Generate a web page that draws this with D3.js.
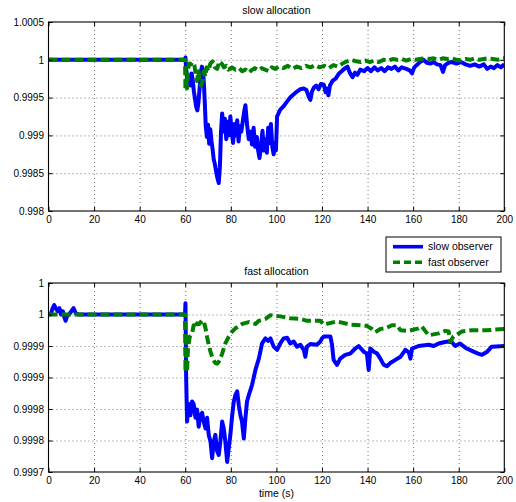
<!DOCTYPE html>
<html>
<head>
<meta charset="utf-8">
<script src="https://cdn.jsdelivr.net/npm/d3@7"></script>
<style>
  body { margin: 0; background: #fff; }
  svg { font-family: "Liberation Sans", Arial, Helvetica, sans-serif; }
</style>
</head>
<body>
<svg id="chart" width="516" height="502"></svg>
<script>
// ---- data: [time (s), value] ----

// x axis ticks, shared by both panels
const timeTicks = [0, 20, 40, 60, 80, 100, 120, 140, 160, 180, 200]

// top panel: slow allocation
const slowAllocTicks = [0.998, 0.9985, 0.999, 0.9995, 1, 1.0005]
const slowAllocTickLabels = ["0.998", "0.9985", "0.999", "0.9995", "1", "1.0005"]

const slowAllocSlowObs = [
  [0, 1], [59.8, 1], [60.1, 1.00003], [60.4, 0.99988], [60.8, 0.99976], [61.3, 0.99968],
  [61.8, 0.99978], [62.3, 0.99966], [62.8, 0.99982], [63.3, 0.99973], [63.8, 0.99958],
  [64.3, 0.99948], [64.8, 0.99938], [65.3, 0.99933], [65.8, 0.99944], [66.3, 0.99962],
  [66.8, 0.99982], [67.3, 0.99991], [67.8, 0.99986], [68.2, 0.99968], [68.6, 0.99942],
  [69.0, 0.99912], [69.5, 0.99898], [70.0, 0.99914], [70.5, 0.99889], [71.0, 0.99908],
  [71.5, 0.99893], [72.0, 0.99882], [72.5, 0.99868], [73.0, 0.99862], [73.5, 0.99853],
  [74.0, 0.99845], [74.7, 0.99837], [75.2, 0.99858], [75.7, 0.99905], [76.2, 0.99929],
  [76.8, 0.99905], [77.4, 0.99922], [78.0, 0.99895], [78.6, 0.99918], [79.2, 0.99900],
  [79.8, 0.99925], [80.4, 0.99905], [81.0, 0.99890], [81.6, 0.99915], [82.2, 0.99900],
  [82.8, 0.99920], [83.4, 0.99892], [84.0, 0.99912], [84.6, 0.99905], [85.3, 0.99920],
  [85.9, 0.99932], [86.4, 0.99940], [87.2, 0.99912], [87.9, 0.99895], [88.6, 0.99905],
  [89.3, 0.99888], [90.0, 0.99910], [90.7, 0.99885], [91.4, 0.99898], [92.0, 0.99880],
  [92.6, 0.99870], [93.2, 0.99885], [93.9, 0.99906], [94.5, 0.99880], [95.2, 0.99895],
  [95.8, 0.99877], [96.4, 0.99910], [97.0, 0.99890], [97.6, 0.99915], [98.2, 0.99885],
  [98.8, 0.99875], [99.4, 0.99890], [99.8, 0.99880], [100.3, 0.99925], [101.7, 0.99934],
  [103.0, 0.99938], [104.5, 0.99944], [106.0, 0.99950], [107.5, 0.99954], [109.0, 0.99958],
  [110.5, 0.99961], [112.0, 0.99962], [113.2, 0.99960], [114.2, 0.99951], [114.9, 0.99947],
  [115.6, 0.99958], [116.4, 0.99963], [117.5, 0.99966], [118.5, 0.99961], [119.5, 0.99968],
  [120.8, 0.99967], [121.6, 0.99957], [122.3, 0.99962], [122.8, 0.99953], [123.5, 0.99966],
  [124.6, 0.99972], [126.0, 0.99975], [127.5, 0.99982], [129.0, 0.99986], [130.2, 0.99989],
  [131.2, 0.99991], [132.2, 0.99983], [133.4, 0.99977], [134.5, 0.99983], [135.5, 0.99980],
  [136.8, 0.99987], [138.5, 0.99985], [140.0, 0.99989], [141.5, 0.99985], [143.0, 0.99990],
  [144.5, 0.99986], [146.0, 0.99989], [147.5, 0.99985], [149.0, 0.99990], [150.5, 0.99988],
  [152.0, 0.99991], [153.5, 0.99986], [155.0, 0.99990], [157.0, 0.99988], [158.5, 0.99986],
  [159.5, 0.99982], [160.5, 0.99990], [161.6, 0.99993], [163.0, 0.99997], [164.5, 1.00000],
  [166.0, 0.99996], [167.5, 0.99995], [169.0, 0.99997], [170.5, 0.99994], [172.0, 0.99993],
  [173.1, 0.99984], [174.0, 0.99993], [175.5, 0.99996], [177.0, 0.99997], [179.0, 0.99995],
  [181.0, 0.99997], [183.0, 0.99994], [185.0, 0.99992], [187.0, 0.99994], [189.0, 0.99991],
  [191.0, 0.99994], [192.5, 0.99988], [194.0, 0.99991], [195.5, 0.99989], [197.0, 0.99993],
  [198.5, 0.99990], [200.0, 0.99994]
]

const slowAllocFastObs = [
  [0, 1], [59.9, 1], [60.1, 0.99960], [60.4, 0.99975], [60.8, 0.99962], [61.2, 0.99988],
  [61.8, 0.99995], [62.5, 0.99994], [63.3, 0.99997], [64.0, 0.99993], [64.6, 0.99980],
  [65.2, 0.99972], [65.8, 0.99985], [66.4, 0.99970], [67.0, 0.99966], [67.6, 0.99972],
  [68.2, 0.99985], [68.8, 0.99978], [69.4, 0.99990], [70.2, 0.99985], [71.0, 0.99995],
  [72.0, 0.99998], [73.0, 0.99990], [74.0, 0.99988], [75.0, 0.99998], [76.0, 0.99995],
  [77.0, 0.99990], [78.0, 0.99992], [79.0, 0.99987], [80.5, 0.99990], [82.0, 0.99987],
  [83.5, 0.99989], [85.0, 0.99985], [86.5, 0.99987], [88.0, 0.99983], [89.0, 0.99986],
  [90.5, 0.99989], [92.0, 0.99986], [93.5, 0.99989], [95.0, 0.99987], [96.8, 0.99985],
  [98.0, 0.99990], [99.5, 0.99988], [101.0, 0.99991], [103.0, 0.99989], [105.0, 0.99992],
  [107.0, 0.99988], [109.0, 0.99991], [111.0, 0.99989], [113.0, 0.99992], [115.0, 0.99990],
  [117.0, 0.99993], [119.0, 0.99990], [121.0, 0.99992], [123.0, 0.99989], [125.0, 0.99993],
  [127.0, 0.99991], [129.0, 0.99995], [131.0, 0.99998], [133.0, 1.00000], [135.0, 0.99998],
  [137.0, 0.99997], [139.0, 0.99999], [141.0, 0.99997], [143.0, 0.99999], [145.0, 0.99997],
  [147.0, 1.00000], [149.0, 0.99999], [151.0, 1.00001], [153.0, 1.00000], [155.0, 1.00001],
  [157.0, 0.99999], [159.0, 1.00001], [161.0, 1.00000], [163.0, 1.00001], [165.0, 1.00002],
  [167.0, 1.00001], [169.0, 1.00002], [171.0, 1.00000], [173.0, 1.00002], [175.0, 1.00001],
  [177.0, 1.00002], [179.0, 1.00000], [181.0, 0.99999], [183.0, 1.00001], [185.0, 1.00000],
  [187.0, 1.00002], [189.0, 1.00000], [191.0, 1.00001], [193.0, 1.00002], [195.0, 1.00001],
  [197.0, 1.00000], [200.0, 1.00002]
]

// bottom panel: fast allocation
const fastAllocTicks = [0.9997, 0.99975, 0.9998, 0.99985, 0.9999, 0.99995, 1]
const fastAllocTickLabels = ["0.9997", "0.9998", "0.9998", "0.9999", "0.9999", "1", "1"]

const fastAllocSlowObs = [
  [0, 0.99995], [1.0, 0.99995], [1.8, 0.99996], [2.5, 0.999965], [3.2, 0.99996],
  [4.0, 0.999955], [4.8, 0.99996], [5.5, 0.99995], [6.3, 0.999955], [7.0, 0.999945],
  [7.5, 0.99994], [8.2, 0.999948], [9.0, 0.99995], [10.0, 0.999955], [11.0, 0.99996],
  [12.0, 0.999952], [13.0, 0.99995], [59.9, 0.99995], [60.1, 0.999968], [60.4, 0.99985],
  [60.8, 0.99978], [61.5, 0.999808], [62.3, 0.99979], [63.0, 0.999812], [63.7, 0.999808],
  [64.5, 0.999786], [65.2, 0.999799], [65.9, 0.999772], [66.7, 0.99979], [67.4, 0.999794],
  [68.1, 0.99978], [68.9, 0.999769], [69.6, 0.999786], [70.3, 0.999759], [71.1, 0.999748],
  [71.8, 0.999722], [72.5, 0.999748], [73.2, 0.999759], [74.0, 0.999733], [74.7, 0.999727],
  [75.4, 0.999748], [76.2, 0.99978], [76.9, 0.999769], [77.6, 0.999748], [78.4, 0.999716],
  [79.1, 0.999738], [79.8, 0.999759], [80.6, 0.99979], [81.3, 0.999812], [82.0, 0.999822],
  [82.8, 0.999828], [83.5, 0.999806], [84.2, 0.99979], [84.9, 0.99978], [85.7, 0.999753],
  [86.4, 0.999785], [87.1, 0.999812], [87.9, 0.999822], [89.3, 0.999838], [90.8, 0.999862],
  [92.3, 0.99988], [93.7, 0.999904], [95.2, 0.999912], [96.3, 0.999908], [97.4, 0.999912],
  [98.8, 0.999899], [100.3, 0.999894], [101.7, 0.999904], [103.2, 0.999912], [104.7, 0.999913],
  [106.1, 0.999904], [107.6, 0.999907], [109.0, 0.999899], [110.5, 0.999902], [112.0, 0.999894],
  [112.7, 0.999883], [113.4, 0.999899], [114.9, 0.999903], [117.8, 0.999902], [119.3, 0.999907],
  [120.0, 0.999912], [120.8, 0.999915], [123.7, 0.999915], [124.4, 0.999902], [125.1, 0.999878],
  [126.6, 0.99987], [128.0, 0.99988], [130.2, 0.999886], [132.4, 0.999888], [134.6, 0.999896],
  [136.1, 0.9999], [138.3, 0.999891], [139.7, 0.999888], [140.5, 0.999862], [141.2, 0.999896],
  [142.7, 0.999891], [144.2, 0.999888], [145.6, 0.99988], [147.1, 0.99987], [148.5, 0.999868],
  [150.0, 0.999873], [152.2, 0.999878], [154.5, 0.999883], [156.6, 0.999894], [158.1, 0.99989],
  [158.8, 0.99988], [159.5, 0.999896], [162.4, 0.9999], [166.8, 0.999902], [169.0, 0.9999],
  [171.2, 0.999904], [173.5, 0.999906], [174.9, 0.999907], [177.0, 0.999906], [178.5, 0.9999],
  [180.5, 0.999904], [183.5, 0.999896], [186.5, 0.999891], [188.5, 0.999888], [190.2, 0.999886],
  [192.5, 0.999891], [194.5, 0.999899], [200.0, 0.9999]
]

const fastAllocFastObs = [
  [0, 0.99995], [59.9, 0.99995], [60.1, 0.999859], [60.5, 0.99991], [60.8, 0.999859],
  [61.2, 0.999896], [62.0, 0.999915], [63.0, 0.99992], [63.7, 0.999933], [64.5, 0.999928],
  [65.2, 0.999936], [66.2, 0.999935], [67.4, 0.999941], [68.2, 0.999938], [68.9, 0.999928],
  [69.6, 0.999914], [70.3, 0.999902], [71.0, 0.999892], [71.8, 0.999883], [72.5, 0.999877],
  [73.2, 0.999873], [74.0, 0.999872], [74.7, 0.999875], [75.4, 0.99988], [76.2, 0.999888],
  [76.9, 0.999896], [77.6, 0.999904], [79.1, 0.999915], [80.6, 0.999923], [82.0, 0.999928],
  [83.5, 0.999931], [85.0, 0.999935], [87.9, 0.999938], [90.8, 0.999935], [92.3, 0.99994],
  [95.2, 0.999943], [97.4, 0.999949], [101.7, 0.999947], [106.1, 0.999944], [110.5, 0.999943],
  [113.4, 0.99994], [119.3, 0.99994], [120.8, 0.999934], [126.6, 0.999939], [132.4, 0.999934],
  [139.7, 0.999932], [141.9, 0.999927], [143.4, 0.999922], [145.6, 0.999927], [147.8, 0.999928],
  [150.7, 0.999933], [152.9, 0.999933], [154.4, 0.999925], [158.0, 0.999924], [162.4, 0.999928],
  [163.8, 0.999931], [165.3, 0.999924], [166.8, 0.999917], [171.2, 0.99992], [174.1, 0.999924],
  [175.6, 0.999923], [176.3, 0.999907], [177.7, 0.999915], [181.4, 0.999923], [185.8, 0.999925],
  [192.0, 0.999925], [200.0, 0.999927]
]

const seriesNames = ["slow observer", "fast observer"]

// ---- layout ----
const svg = d3.select("#chart")
const left = 48.5, right = 504.3
const blue = "#0000ff", green = "#008000"

const x = d3.scaleLinear().domain([0, 200]).range([left, right])

// draw one subplot with box, dotted grid, inward ticks and both series
const drawPanel = (id, top, bottom, yDomain, yTicks, yLabels, title, slowData, fastData, xLabel) => {
  const y = d3.scaleLinear().domain(yDomain).range([bottom, top])
  const g = svg.append("g").attr("class", "panel-" + id)
  const w = right - left, h = bottom - top

  g.append("clipPath").attr("id", "clip-" + id)
    .append("rect").attr("x", left).attr("y", top).attr("width", w).attr("height", h)

  // dotted grid
  const gridStyle = sel => {
    sel.select(".domain").remove()
    sel.selectAll("line").attr("stroke", "#555").attr("stroke-width", 0.8)
      .attr("stroke-dasharray", "1,3")
  }
  g.append("g").attr("transform", `translate(0,${bottom})`)
    .call(d3.axisBottom(x).tickValues(timeTicks.slice(1, -1)).tickSize(-h).tickFormat(""))
    .call(gridStyle)
  g.append("g").attr("transform", `translate(${left},0)`)
    .call(d3.axisLeft(y).tickValues(yTicks.slice(1, -1)).tickSize(-w).tickFormat(""))
    .call(gridStyle)

  // lines
  const line = d3.line().x(d => x(d[0])).y(d => y(d[1]))
  const lines = g.append("g").attr("clip-path", `url(#clip-${id})`)
  lines.append("path").datum(slowData).attr("d", line)
    .attr("fill", "none").attr("stroke", blue).attr("stroke-width", 4)
    .attr("stroke-linejoin", "round")
  lines.append("path").datum(fastData).attr("d", line)
    .attr("fill", "none").attr("stroke", green).attr("stroke-width", 4)
    .attr("stroke-linejoin", "round").attr("stroke-dasharray", "9,4")

  // axes with inward ticks
  const tickStyle = sel => {
    sel.select(".domain").remove()
    sel.selectAll("line").attr("stroke", "#000")
    sel.selectAll("text").attr("fill", "#000").style("font-size", "10px")
      .style("font-family", '"Liberation Sans", Arial, sans-serif')
  }
  g.append("g").attr("transform", `translate(0,${bottom})`)
    .call(d3.axisBottom(x).tickValues(timeTicks).tickSize(-4).tickPadding(5))
    .call(tickStyle)
  g.append("g").attr("transform", `translate(0,${top})`)
    .call(d3.axisTop(x).tickValues(timeTicks).tickSize(-4).tickFormat(""))
    .call(tickStyle)
  g.append("g").attr("transform", `translate(${left},0)`)
    .call(d3.axisLeft(y).tickValues(yTicks).tickSize(-4).tickPadding(4.5)
      .tickFormat((d, i) => yLabels[i]))
    .call(tickStyle)
  g.append("g").attr("transform", `translate(${right},0)`)
    .call(d3.axisRight(y).tickValues(yTicks).tickSize(-4).tickFormat(""))
    .call(tickStyle)

  // box
  g.append("rect").attr("x", left).attr("y", top).attr("width", w).attr("height", h)
    .attr("fill", "none").attr("stroke", "#000").attr("stroke-width", 1.1)

  g.append("text").attr("x", (left + right) / 2).attr("y", top - 8)
    .attr("text-anchor", "middle").style("font-size", "10.5px").text(title)

  if (xLabel) {
    g.append("text").attr("x", (left + right) / 2).attr("y", bottom + 25)
      .attr("text-anchor", "middle").style("font-size", "10.5px").text(xLabel)
  }
}

drawPanel("slow", 22, 211, [0.998, 1.0005], slowAllocTicks, slowAllocTickLabels,
  "slow allocation", slowAllocSlowObs, slowAllocFastObs)
drawPanel("fast", 283, 472, [0.9997, 1], fastAllocTicks, fastAllocTickLabels,
  "fast allocation", fastAllocSlowObs, fastAllocFastObs, "time (s)")

// legend
const legend = svg.append("g").attr("transform", "translate(386,237)")
legend.append("rect").attr("width", 115).attr("height", 35)
  .attr("fill", "#fff").attr("stroke", "#000").attr("stroke-width", 1)
legend.selectAll("g.item").data(seriesNames).enter().append("g")
  .attr("class", "item")
  .attr("transform", (d, i) => `translate(0,${9.7 + i * 15.6})`)
  .each(function (d, i) {
    const it = d3.select(this)
    it.append("line").attr("x1", 7).attr("x2", 37).attr("y1", 0).attr("y2", 0)
      .attr("stroke", i ? green : blue).attr("stroke-width", 3.6)
      .attr("stroke-dasharray", i ? "7,4" : null)
    it.append("text").attr("x", 42).attr("y", 0).attr("dy", "0.35em")
      .style("font-size", "10.5px").text(d)
  })
</script>
</body>
</html>
